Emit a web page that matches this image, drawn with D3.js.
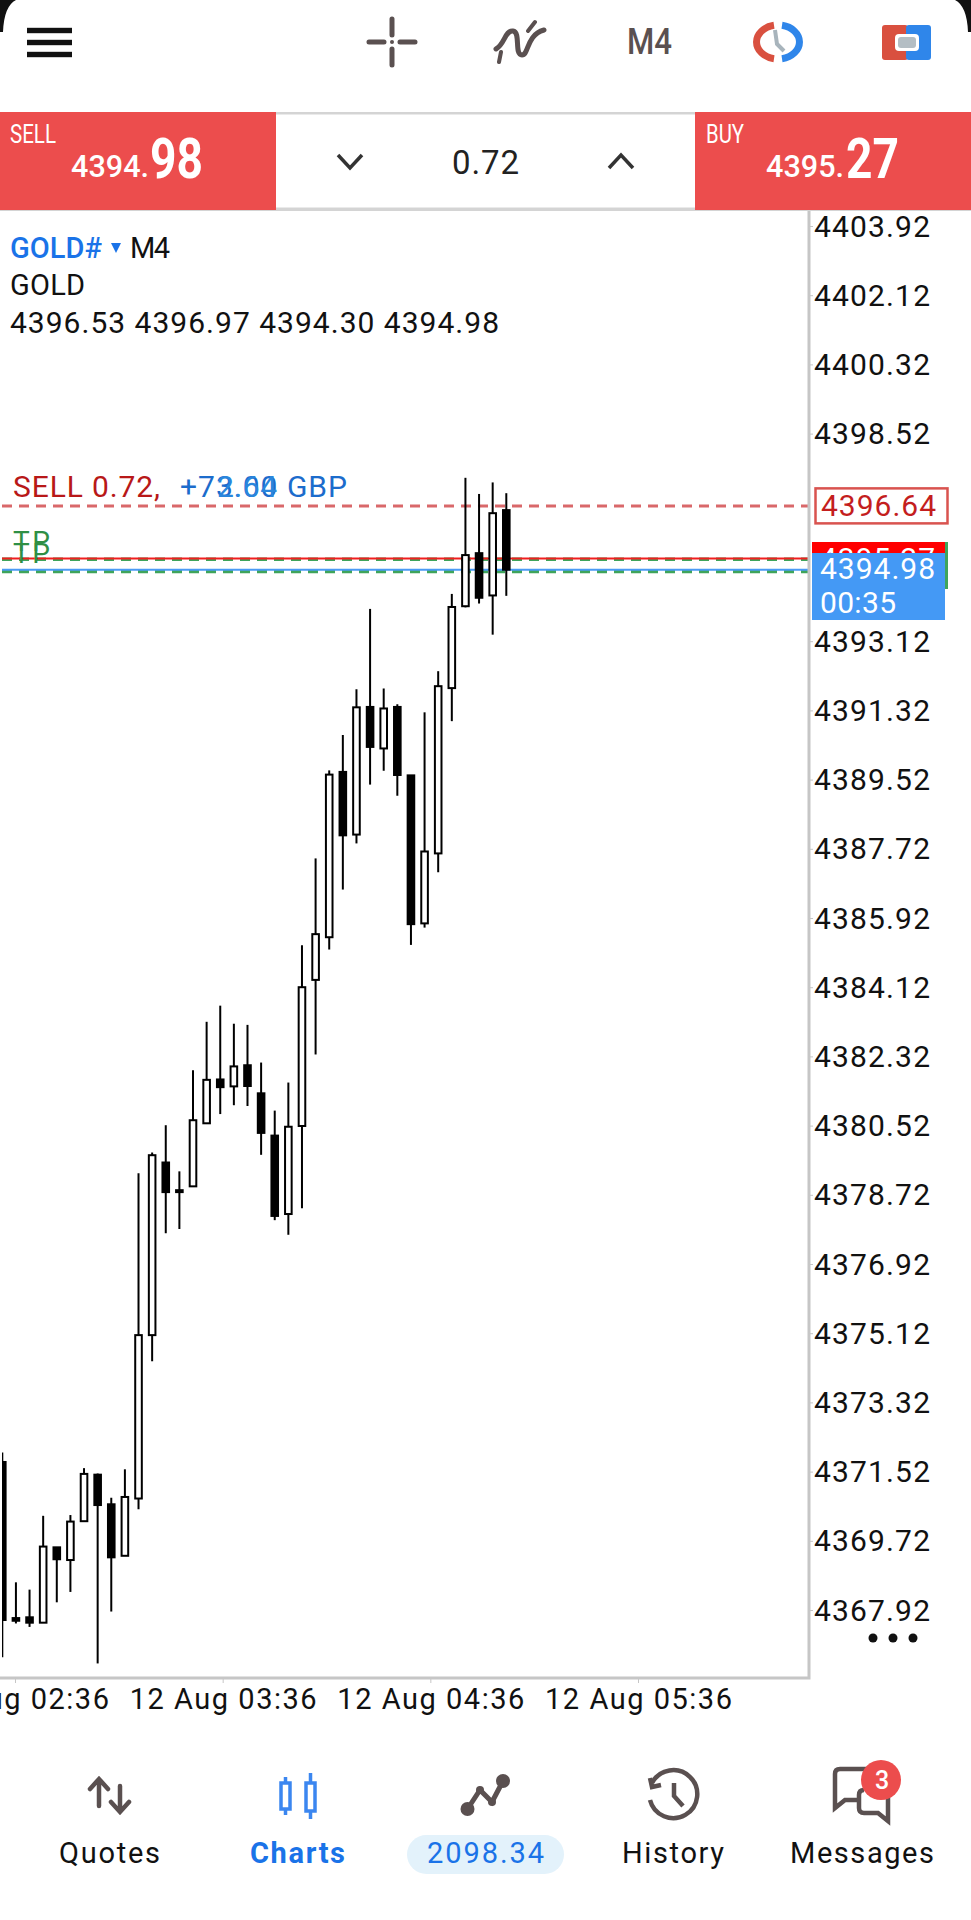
<!DOCTYPE html>
<html>
<head>
<meta charset="utf-8">
<style>
	html, body { margin: 0; padding: 0; background: #fff; }
	svg { display: block; }
	text { font-family: Roboto, sans-serif; }
</style>
<script src="https://cdn.jsdelivr.net/npm/d3@7"></script>
</head>
<body>
<svg id="chart" width="971" height="1920"></svg>
<script>
// candles, oldest first (4 minute bars)
var opens = [4371.77,4367.71,4367.73,4367.59,4369.55,4369.22,4370.23,4371.44,4370.67,4369.33,4370.82,4375.07,4379.56,4378.84,4378.94,4380.58,4381.72,4381.54,4382.09,4381.36,4380.26,4378.22,4380.51,4384.31,4385.42,4389.72,4388.09,4391.41,4390.33,4391.41,4389.63,4385.78,4387.60,4391.90,4394.03,4395.41,4394.31,4396.53];
var highs = [4372.02,4368.64,4368.45,4370.37,4369.55,4370.39,4371.61,4371.47,4370.84,4371.58,4379.28,4379.82,4380.53,4379.33,4381.96,4383.22,4383.64,4383.17,4383.14,4382.16,4380.91,4381.64,4385.21,4387.47,4389.76,4390.68,4391.87,4393.96,4391.89,4391.48,4389.63,4391.27,4392.34,4394.35,4397.37,4396.95,4397.25,4396.97];
var lows = [4366.69,4367.57,4367.48,4367.59,4368.12,4368.39,4370.23,4366.53,4367.88,4369.33,4370.54,4374.39,4377.72,4377.83,4378.94,4380.58,4380.82,4381.05,4381.03,4379.76,4378.06,4377.68,4378.37,4382.37,4385.10,4386.66,4387.86,4389.39,4389.75,4389.10,4385.22,4385.67,4387.11,4391.04,4394.00,4394.10,4393.29,4394.30];
var closes = [4367.66,4367.64,4367.59,4369.57,4369.24,4370.22,4371.46,4370.65,4369.29,4370.86,4375.07,4379.75,4378.79,4378.79,4380.66,4381.71,4381.52,4382.06,4381.55,4380.33,4378.17,4380.49,4384.12,4385.50,4389.65,4388.07,4391.40,4390.37,4391.37,4389.64,4385.76,4387.65,4391.95,4394.01,4395.36,4394.25,4396.45,4394.98];

var priceTicks = [4403.92,4402.12,4400.32,4398.52,4393.12,4391.32,4389.52,4387.72,4385.92,4384.12,4382.32,4380.52,4378.72,4376.92,4375.12,4373.32,4371.52,4369.72,4367.92];
var timeTicks = ["2025-08-12T02:36Z","2025-08-12T03:36Z","2025-08-12T04:36Z","2025-08-12T05:36Z"];

var orderPrice = 4396.64, askPrice = 4395.27, bidPrice = 4394.98;
var tpPrices = [4395.25, 4394.93];
var ohlcLabel = ["4396.53","4396.97","4394.30","4394.98"];
var navLabels = ["Quotes","Charts","2098.34","History","Messages"];

var INK = "#5a5050", BLUE = "#1a73e8", RED = "#ec4d4d", AXIS = "#c6c6c6";
var plotLeft = 2, plotRight = 809, plotTop = 212, plotBottom = 1677;

var svg = d3.select("#chart");

function label(parent, x, y, str, o) {
	o = o || {};
	var t = parent.append("text")
		.attr("x", x)
		.attr("y", y)
		.attr("font-size", o.size || 30)
		.attr("font-weight", o.weight || 400)
		.attr("fill", o.fill || "#111")
		.text(str);
	if (o.width) {
		t.attr("textLength", o.width);
		if (o.squeeze) t.attr("lengthAdjust", "spacingAndGlyphs");
	}
	return t;
}

// scales
var x = d3.scaleLinear().domain([0, closes.length - 1]).range([2.3, 506.3]);
var y = d3.scaleLinear().domain([4403.92, 4367.92]).range([226, 1610]);
var t = d3.scaleUtc().domain([new Date(timeTicks[0]), new Date(timeTicks[3])]).range([15, 638]);

svg.append("clipPath").attr("id", "plot")
	.append("rect")
	.attr("x", plotLeft)
	.attr("y", plotTop)
	.attr("width", plotRight - plotLeft)
	.attr("height", plotBottom - plotTop);

var plot = svg.append("g").attr("clip-path", "url(#plot)");

// price lines, behind the candles
function hline(price, color, width, dash) {
	plot.append("line")
		.attr("x1", plotLeft)
		.attr("x2", plotRight)
		.attr("y1", y(price))
		.attr("y2", y(price))
		.attr("stroke", color)
		.attr("stroke-width", width)
		.attr("stroke-dasharray", dash);
}
hline(orderPrice, "#d9686a", 3, "10 7");
hline(tpPrices[0], "#3fa45b", 3.5, "10 7");
hline(tpPrices[1], "#3fa45b", 3.5, "10 7");
hline(askPrice, "#f01e1e", 2, null);
hline(bidPrice, "#4a9bf5", 2, null);

// candles
var candles = plot.append("g")
	.selectAll("g")
	.data(closes)
	.enter()
	.append("g");

candles.append("line")
	.attr("x1", function(d, i) { return x(i); })
	.attr("x2", function(d, i) { return x(i); })
	.attr("y1", function(d, i) { return y(highs[i]); })
	.attr("y2", function(d, i) { return y(lows[i]); })
	.attr("stroke", "#000")
	.attr("stroke-width", 2);

candles.append("rect")
	.attr("x", function(d, i) { return x(i) - 3.3; })
	.attr("y", function(d, i) { return y(Math.max(opens[i], closes[i])); })
	.attr("width", 6.6)
	.attr("height", function(d, i) { return Math.abs(y(opens[i]) - y(closes[i])); })
	.attr("fill", function(d, i) { return closes[i] >= opens[i] ? "#fff" : "#000"; })
	.attr("stroke", "#000")
	.attr("stroke-width", 2);

// chart legend
label(svg, 10, 258, "GOLD#", {size: 29, weight: 500, fill: BLUE, width: 92});
svg.append("path").attr("d", "M111 243L121 243L116 253Z").attr("fill", BLUE);
label(svg, 130, 258, "M4", {size: 29, width: 40});
label(svg, 10, 295, "GOLD", {size: 29, width: 75});
label(svg, 10, 333, ohlcLabel.join(" "), {size: 30, width: 489});

label(svg, 13, 497, "SELL 0.72,", {size: 30, fill: "#b81818", width: 147});
label(svg, 180, 497, "+73.00 GBP", {size: 30, fill: "#1c6ccc", width: 167});
label(svg, 217, 497, "2.64", {size: 30, fill: "#2a86dc", width: 60});
label(svg, 13, 551, "TP", {size: 28, fill: "#2f8f45", width: 37});
label(svg, 13, 563, "TP", {size: 28, fill: "#2f8f45", width: 37});

// axes
var yAxis = svg.append("g")
	.attr("transform", "translate(" + plotRight + ",0)")
	.call(d3.axisRight(y).tickValues(priceTicks).tickSize(4).tickPadding(1)
		.tickFormat(d3.format(".2f")));
yAxis.select(".domain").remove();
yAxis.selectAll("line").attr("stroke", AXIS);
yAxis.selectAll("text")
	.attr("x", 5)
	.attr("dy", null)
	.attr("y", 10)
	.attr("font-size", 30)
	.attr("font-family", "Roboto, sans-serif")
	.attr("fill", "#111")
	.attr("textLength", 116);

var xAxis = svg.append("g")
	.attr("transform", "translate(0,1678)")
	.call(d3.axisBottom(t).tickValues(timeTicks.map(function(d) { return new Date(d); }))
		.tickSize(5).tickFormat(d3.utcFormat("%d %b %H:%M")));
xAxis.select(".domain").remove();
xAxis.selectAll("line").attr("stroke", AXIS);
xAxis.selectAll("text")
	.attr("y", 31)
	.attr("dy", null)
	.attr("font-size", 29)
	.attr("font-family", "Roboto, sans-serif")
	.attr("fill", "#111")
	.attr("textLength", 187);

svg.append("path")
	.attr("d", "M" + plotRight + " " + (plotTop - 2) + "V1678H0")
	.attr("fill", "none")
	.attr("stroke", AXIS)
	.attr("stroke-width", 3);

svg.selectAll(".more")
	.data([873, 893, 913])
	.enter()
	.append("ellipse")
	.attr("cx", function(d) { return d; })
	.attr("cy", 1638)
	.attr("rx", 4.5)
	.attr("ry", 4.5)
	.attr("fill", "#111");

// price tags on the axis
svg.append("rect")
	.attr("x", 815.5).attr("y", y(orderPrice) - 17.5)
	.attr("width", 132).attr("height", 35)
	.attr("fill", "#fff").attr("stroke", "#d9534f").attr("stroke-width", 2.5);
label(svg, 821, y(orderPrice) + 10.5, d3.format(".2f")(orderPrice), {fill: "#c41e1e", width: 115});

svg.append("rect").attr("x", 945).attr("y", 542).attr("width", 3).attr("height", 47).attr("fill", "#3fa45b");
svg.append("rect").attr("x", 812).attr("y", 542).attr("width", 133).attr("height", 20).attr("fill", "#ff0000");
label(svg, 820, y(askPrice) + 10.5, d3.format(".2f")(askPrice), {fill: "#fff", width: 115});
svg.append("rect").attr("x", 812).attr("y", 553).attr("width", 133).attr("height", 67).attr("fill", "#4499f5");
label(svg, 820, y(bidPrice) + 9, d3.format(".2f")(bidPrice), {fill: "#fff", width: 115});
label(svg, 820, 613, "00:35", {fill: "#fff", width: 76});

// top bar
var topBar = svg.append("g");
topBar.append("path").attr("d", "M0 0H16Q4 6 3 32L0 32Z").attr("fill", "#111");
topBar.append("path").attr("d", "M971 0H955Q967 6 968 32L971 32Z").attr("fill", "#111");

[30.5, 42.5, 54.5].forEach(function(v) {
	topBar.append("rect").attr("x", 27).attr("y", v - 2.7).attr("width", 45).attr("height", 5.4).attr("fill", "#111");
});

topBar.append("path")
	.attr("d", "M369 42H384M400 42H415M392 19V35M392 49V65")
	.attr("stroke", INK).attr("stroke-width", 5).attr("stroke-linecap", "round").attr("fill", "none");
topBar.append("circle").attr("cx", 392).attr("cy", 42).attr("r", 2).attr("fill", INK);

topBar.append("path")
	.attr("d", "M496 49C505 44 505 30 513 31C521 32 514 55 522 55C529 55 526 35 544 30")
	.attr("stroke", INK).attr("stroke-width", 5).attr("stroke-linecap", "round").attr("fill", "none");
topBar.append("path")
	.attr("d", "M499 62L501 52M528 31L535 22")
	.attr("stroke", INK).attr("stroke-width", 4).attr("stroke-linecap", "round").attr("fill", "none");

label(topBar, 627, 54, "M4", {size: 36, weight: 500, fill: INK, width: 45, squeeze: true});

topBar.append("path").attr("d", "M774 25.3A21.5 17 0 0 0 774 58.7")
	.attr("fill", "none").attr("stroke", "#d9503f").attr("stroke-width", 7);
topBar.append("path").attr("d", "M782 25.3A21.5 17 0 0 1 782 58.7")
	.attr("fill", "none").attr("stroke", "#2f86ea").attr("stroke-width", 7);
topBar.append("path").attr("d", "M775 30L777 44L784 51")
	.attr("fill", "none").attr("stroke", "#a8b4bc").attr("stroke-width", 4);

topBar.append("rect").attr("x", 882).attr("y", 25).attr("width", 26).attr("height", 35).attr("rx", 3).attr("fill", "#d9503f");
topBar.append("rect").attr("x", 906).attr("y", 25).attr("width", 25).attr("height", 35).attr("rx", 3).attr("fill", "#2f86ea");
topBar.append("rect").attr("x", 895).attr("y", 34).attr("width", 24).attr("height", 17).attr("rx", 4).attr("fill", "#fff");
topBar.append("rect").attr("x", 898).attr("y", 37).attr("width", 18).attr("height", 11).attr("rx", 3).attr("fill", "#b4bec4");

// order panel
var order = svg.append("g");
order.append("rect").attr("x", 0).attr("y", 112).attr("width", 971).attr("height", 99).attr("fill", "#d4d4d4");
order.append("rect").attr("x", 276).attr("y", 114.5).attr("width", 419).attr("height", 93).attr("fill", "#fff");
order.append("rect").attr("x", 0).attr("y", 112).attr("width", 276).attr("height", 98).attr("fill", RED);
order.append("rect").attr("x", 695).attr("y", 112).attr("width", 276).attr("height", 98).attr("fill", RED);

label(order, 10, 143, "SELL", {size: 25, fill: "#fff", width: 46, squeeze: true});
label(order, 71, 177, "4394.", {size: 31, weight: 500, fill: "#fff", width: 78, squeeze: true});
label(order, 150, 178, "98", {size: 56, weight: 700, fill: "#fff", width: 53, squeeze: true});
label(order, 706, 143, "BUY", {size: 25, fill: "#fff", width: 38, squeeze: true});
label(order, 766, 177, "4395.", {size: 31, weight: 500, fill: "#fff", width: 78, squeeze: true});
label(order, 846, 178, "27", {size: 56, weight: 700, fill: "#fff", width: 53, squeeze: true});
label(order, 452, 174, "0.72", {size: 33, fill: "#222", width: 67});

order.append("path").attr("d", "M338 155L350 168L362 155")
	.attr("fill", "none").attr("stroke", "#333").attr("stroke-width", 3.5);
order.append("path").attr("d", "M609 168L621 155L633 168")
	.attr("fill", "none").attr("stroke", "#333").attr("stroke-width", 3.5);

// bottom navigation
var nav = svg.append("g");
nav.append("rect").attr("x", 407).attr("y", 1835).attr("width", 157).attr("height", 39).attr("rx", 19.5).attr("fill", "#e3f2fb");

label(nav, 59, 1863, navLabels[0], {size: 29, width: 101});
label(nav, 250, 1863, navLabels[1], {size: 29, weight: 700, fill: BLUE, width: 95});
label(nav, 427, 1863, navLabels[2], {size: 29, weight: 400, fill: BLUE, width: 117});
label(nav, 622, 1863, navLabels[3], {size: 29, width: 102});
label(nav, 790, 1863, navLabels[4], {size: 29, width: 144});

nav.append("path").attr("d", "M99 1780V1806M90 1789L99 1779L108 1789M120 1786V1811M111 1802L120 1812L129 1802")
	.attr("fill", "none").attr("stroke", INK).attr("stroke-width", 4.5).attr("stroke-linecap", "round");

nav.append("path").attr("d", "M285.5 1777V1815M310.5 1773V1819")
	.attr("stroke", "#3b86f0").attr("stroke-width", 3.5);
nav.append("rect").attr("x", 281).attr("y", 1783).attr("width", 9).attr("height", 26)
	.attr("fill", "#fff").attr("stroke", "#3b86f0").attr("stroke-width", 3.5);
nav.append("rect").attr("x", 306).attr("y", 1783).attr("width", 9).attr("height", 28)
	.attr("fill", "#fff").attr("stroke", "#3b86f0").attr("stroke-width", 3.5);

nav.append("path").attr("d", "M467.5 1809L480 1790L492 1802L503 1781")
	.attr("fill", "none").attr("stroke", INK).attr("stroke-width", 5);
nav.append("circle").attr("cx", 467.5).attr("cy", 1809).attr("r", 7).attr("fill", INK);
nav.append("circle").attr("cx", 503).attr("cy", 1781).attr("r", 7).attr("fill", INK);
nav.append("circle").attr("cx", 480).attr("cy", 1790).attr("r", 4).attr("fill", INK);
nav.append("circle").attr("cx", 492).attr("cy", 1802).attr("r", 4).attr("fill", INK);

nav.append("path").attr("d", "M652 1783A24 24 0 1 1 650 1800")
	.attr("fill", "none").attr("stroke", INK).attr("stroke-width", 4.5);
nav.append("path").attr("d", "M650 1778L652 1787L661 1785M674 1783V1796L683 1806")
	.attr("fill", "none").attr("stroke", INK).attr("stroke-width", 4.5);

nav.append("path").attr("d", "M870 1769H840Q835 1769 835 1774V1808L845 1800H858")
	.attr("fill", "none").attr("stroke", INK).attr("stroke-width", 4.5);
nav.append("path").attr("d", "M864 1790Q859 1790 859 1795V1808Q859 1813 864 1813H878L888 1821V1795")
	.attr("fill", "none").attr("stroke", INK).attr("stroke-width", 4.5);
nav.append("circle").attr("cx", 881).attr("cy", 1780).attr("r", 20).attr("fill", RED);
label(nav, 875, 1789, "3", {size: 25, weight: 500, fill: "#fff"});
</script>
</body>
</html>
